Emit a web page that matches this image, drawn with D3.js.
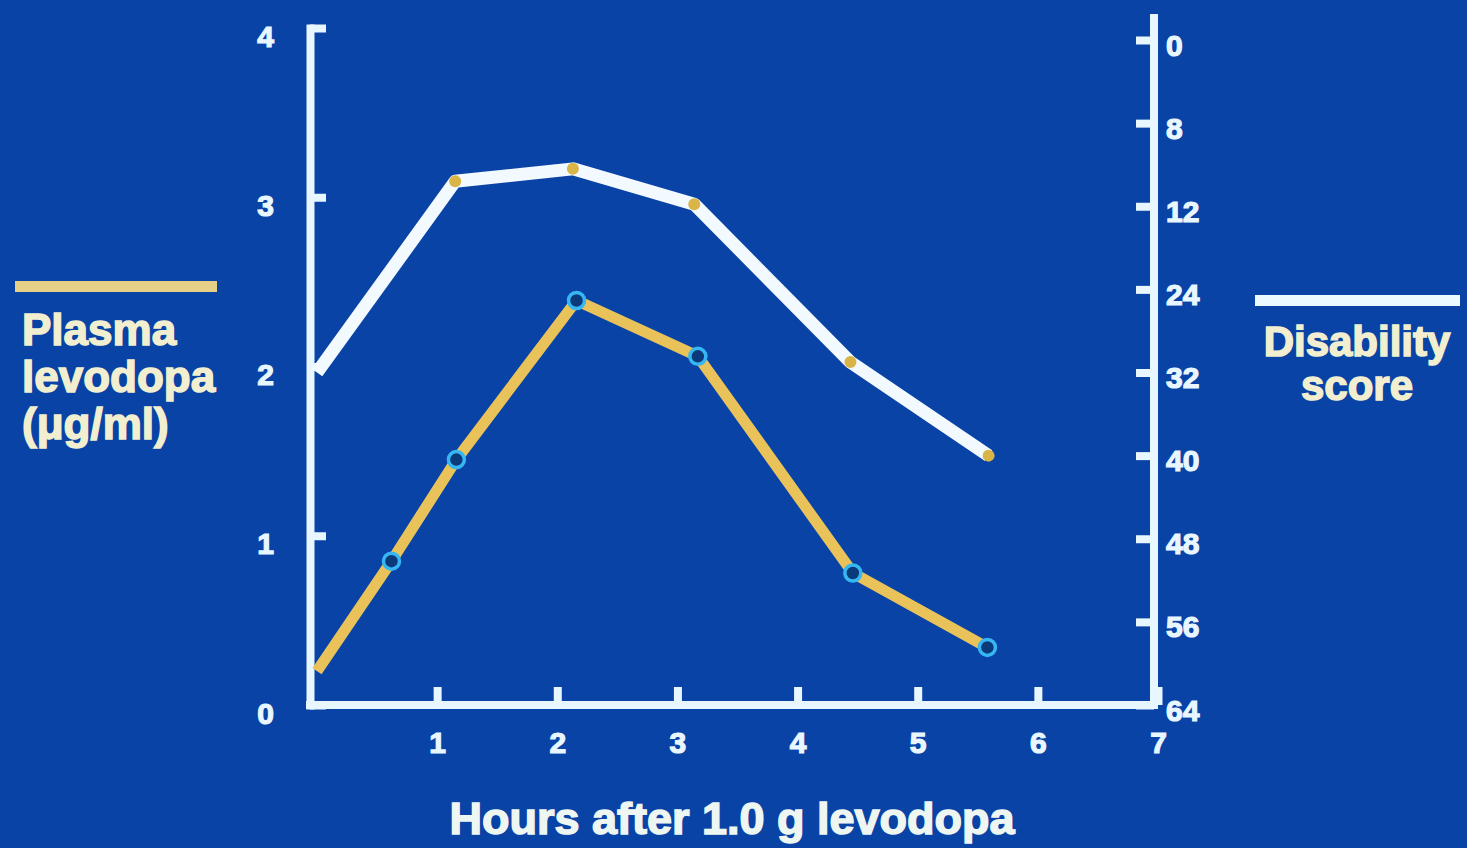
<!DOCTYPE html>
<html>
  <head>
    <meta charset="utf-8" />
    <title>Levodopa and disability score</title>
    <style>
      html,
      body {
        margin: 0;
        padding: 0;
        background: #0a43a6;
      }

      svg {
        display: block;
      }

      text {
        font-family: "Liberation Sans", Arial, sans-serif;
        font-weight: bold;
      }
    </style>
  </head>

  <body>
    <svg id="chart"></svg>

    <script src="https://cdnjs.cloudflare.com/ajax/libs/d3/7.8.5/d3.min.js"></script>
    <script>
      // plasma levodopa (left axis, ug/ml)
      const levodopaHours = [0, 0.62, 1.16, 2.16, 3.17, 4.46, 5.58];
      const levodopaValues = [0.2, 0.85, 1.45, 2.39, 2.06, 0.78, 0.34];

      // disability score (right axis, inverted)
      const disabilityHours = [0, 1.15, 2.13, 3.14, 4.44, 5.59];
      const disabilityValues = [32, 13.6, 12.4, 15.8, 31, 40];

      const hourTicks = [1, 2, 3, 4, 5, 6, 7];
      const levodopaTicks = [0, 1, 2, 3, 4];
      const disabilityTicks = [0, 8, 16, 24, 32, 40, 48, 56, 64];
      const disabilityTickLabels = ["0", "8", "12", "24", "32", "40", "48", "56", "64"];

      const width = 1467;
      const height = 848;

      const bg = "#0a43a6";
      const axisColor = "#e8f7ff";
      const textColor = "#f1efcf";
      const orange = "#e9c35a";
      const cyan = "#36b6f2";

      const svg = d3
        .select("#chart")
        .attr("width", width)
        .attr("height", height);

      svg
        .append("rect")
        .attr("width", width)
        .attr("height", height)
        .attr("fill", bg);

      const x = d3.scaleLinear().domain([0, 7]).range([317, 1158]);
      const yLeft = d3.scaleLinear().domain([0, 4]).range([705, 28]);
      const yRight = d3.scaleLinear().domain([0, 64]).range([40, 705]);

      function styleAxis(g) {
        g.selectAll(".domain")
          .attr("stroke", axisColor)
          .attr("stroke-width", 8)
          .attr("stroke-linecap", "square");
        g.selectAll(".tick line")
          .attr("stroke", axisColor)
          .attr("stroke-width", 8);
        g.selectAll(".tick text")
          .attr("fill", axisColor)
          .attr("stroke", axisColor)
          .attr("stroke-width", 1.2)
          .style("font-size", "30px");
      }

      // left axis (sits a little left of hour 0)
      svg
        .append("g")
        .attr("transform", `translate(${x(0) - 7},0)`)
        .call(
          d3
            .axisLeft(yLeft)
            .tickValues(levodopaTicks)
            .tickFormat(d3.format("d"))
            .tickSizeInner(-16)
            .tickSizeOuter(0)
            .tickPadding(36)
        )
        .call(styleAxis)
        .call((g) => g.selectAll(".tick text").attr("dy", "0.6em"));

      // right axis
      svg
        .append("g")
        .attr("transform", `translate(${x(7) - 4},0)`)
        .call(
          d3
            .axisRight(yRight)
            .tickValues(disabilityTicks)
            .tickFormat((d, i) => disabilityTickLabels[i])
            .tickSizeInner(-18)
            .tickSizeOuter(0)
            .tickPadding(12)
        )
        .call(styleAxis)
        .call((g) =>
          g.select(".domain").attr("d", `M0,${yRight(0) - 22}V${yRight(64)}`)
        )
        .call((g) => g.selectAll(".tick text").attr("dy", "0.5em"));

      // bottom axis
      svg
        .append("g")
        .attr("transform", `translate(0,${yLeft(0)})`)
        .call(
          d3
            .axisBottom(x)
            .tickValues(hourTicks)
            .tickFormat(d3.format("d"))
            .tickSizeInner(-18)
            .tickSizeOuter(0)
            .tickPadding(22)
        )
        .call(styleAxis)
        .call((g) =>
          g.select(".domain").attr("d", `M${x(0) - 7},0H${x(7) - 4}`)
        )
        .call((g) => g.selectAll(".tick text").attr("dy", "0.85em"));

      // disability line (white)
      const disabilityData = disabilityHours.map((h, i) => [h, disabilityValues[i]]);
      const disabilityLine = d3
        .line()
        .x((d) => x(d[0]))
        .y((d) => yRight(d[1]));

      svg
        .append("path")
        .datum(disabilityData)
        .attr("d", disabilityLine)
        .attr("fill", "none")
        .attr("stroke", "#f2faff")
        .attr("stroke-width", 13)
        .attr("stroke-linejoin", "round");

      svg
        .append("g")
        .selectAll("circle")
        .data(disabilityData.slice(1))
        .join("circle")
        .attr("cx", (d) => x(d[0]))
        .attr("cy", (d) => yRight(d[1]))
        .attr("r", 6)
        .attr("fill", "#d9b548");

      // levodopa line (orange)
      const levodopaData = levodopaHours.map((h, i) => [h, levodopaValues[i]]);
      const levodopaLine = d3
        .line()
        .x((d) => x(d[0]))
        .y((d) => yLeft(d[1]));

      svg
        .append("path")
        .datum(levodopaData)
        .attr("d", levodopaLine)
        .attr("fill", "none")
        .attr("stroke", orange)
        .attr("stroke-width", 11)
        .attr("stroke-linejoin", "round");

      svg
        .append("g")
        .selectAll("circle")
        .data(levodopaData.slice(1))
        .join("circle")
        .attr("cx", (d) => x(d[0]))
        .attr("cy", (d) => yLeft(d[1]))
        .attr("r", 8)
        .attr("fill", "#0a3a7a")
        .attr("stroke", cyan)
        .attr("stroke-width", 3.5);

      // left legend
      svg
        .append("rect")
        .attr("x", 15)
        .attr("y", 281)
        .attr("width", 202)
        .attr("height", 11)
        .attr("fill", "#e6cf86");

      const leftLabel = svg
        .append("text")
        .attr("x", 22)
        .attr("y", 345)
        .attr("fill", textColor)
        .attr("stroke", textColor)
        .attr("stroke-width", 1.5)
        .style("font-size", "44px");
      ["Plasma", "levodopa", "(μg/ml)"].forEach((t, i) => {
        leftLabel
          .append("tspan")
          .attr("x", 22)
          .attr("dy", i === 0 ? 0 : 47)
          .text(t);
      });

      // right legend
      svg
        .append("rect")
        .attr("x", 1255)
        .attr("y", 295)
        .attr("width", 205)
        .attr("height", 11)
        .attr("fill", "#eafaff");

      const rightLabel = svg
        .append("text")
        .attr("x", 1357)
        .attr("y", 356)
        .attr("text-anchor", "middle")
        .attr("fill", textColor)
        .attr("stroke", textColor)
        .attr("stroke-width", 1.5)
        .style("font-size", "42px");
      ["Disability", "score"].forEach((t, i) => {
        rightLabel
          .append("tspan")
          .attr("x", 1357)
          .attr("dy", i === 0 ? 0 : 44)
          .text(t);
      });

      // x axis title
      svg
        .append("text")
        .attr("x", 732)
        .attr("y", 834)
        .attr("text-anchor", "middle")
        .attr("fill", "#eef6f2")
        .attr("stroke", "#eef6f2")
        .attr("stroke-width", 1.5)
        .style("font-size", "45px")
        .text("Hours after 1.0 g levodopa");
    </script>
  </body>
</html>
